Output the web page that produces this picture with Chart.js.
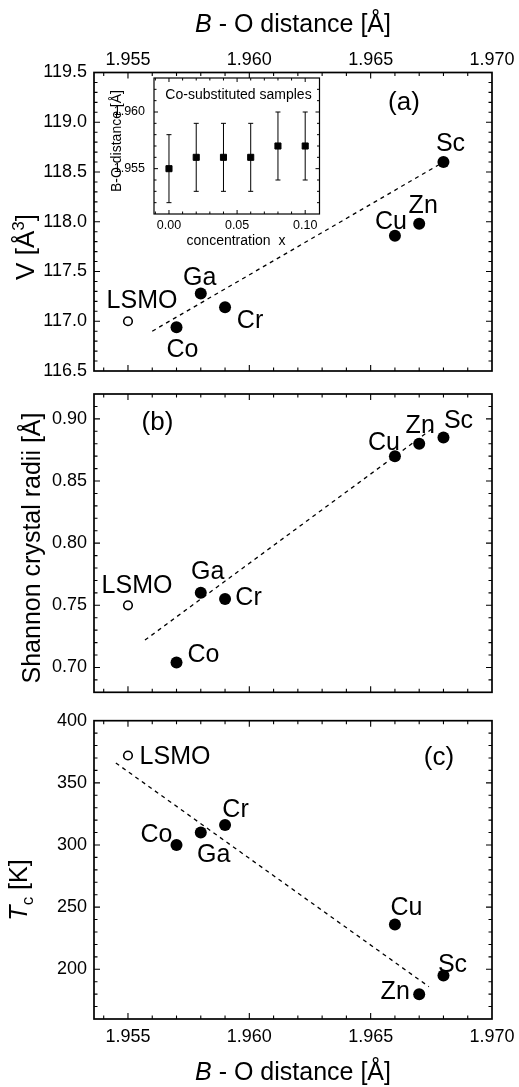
<!DOCTYPE html>
<html>
<head>
<meta charset="utf-8">
<script src="https://cdn.jsdelivr.net/npm/chart.js@4.4.1/dist/chart.umd.min.js"></script>
<style>
html,body{margin:0;padding:0;background:#fff;}
#wrap{position:relative;width:519px;height:1087px;overflow:hidden;background:#fff;}
canvas{position:absolute;left:0;top:0;}
</style>
</head>
<body>
<div id="wrap">
<canvas id="cA" width="519" height="1087"></canvas>
<canvas id="cB" width="519" height="1087"></canvas>
<canvas id="cC" width="519" height="1087"></canvas>
<canvas id="cI" width="519" height="1087"></canvas>
</div>
<script>
// ---------------- DATA ----------------
const elements      = ['LSMO', 'Co', 'Ga', 'Cr', 'Cu', 'Zn', 'Sc'];
const referenceName = 'LSMO';
const boDistance    = [1.955, 1.957, 1.958, 1.959, 1.966, 1.967, 1.968];
const cellVolume    = [117.00, 116.94, 117.28, 117.14, 117.86, 117.98, 118.60];
const shannonRadii  = [0.750, 0.704, 0.760, 0.755, 0.870, 0.880, 0.885];
const curieTemp     = [372, 300, 310, 316, 236, 180, 195];

const fitVolumeX = [1.9560, 1.9680];
const fitVolumeY = [116.90, 118.60];
const fitRadiiX  = [1.9557, 1.9676];
const fitRadiiY  = [0.722, 0.893];
const fitTcX     = [1.9545, 1.9674];
const fitTcY     = [366, 186];

const insetConcentration = [0.00, 0.02, 0.04, 0.06, 0.08, 0.10];
const insetBODistance    = [1.955, 1.956, 1.956, 1.956, 1.957, 1.957];
const insetError         = [0.003, 0.003, 0.003, 0.003, 0.003, 0.003];

const xTickLabels      = [1.955, 1.960, 1.965, 1.970];
const volTickLabels    = [116.5, 117.0, 117.5, 118.0, 118.5, 119.0, 119.5];
const radiiTickLabels  = [0.70, 0.75, 0.80, 0.85, 0.90];
const tcTickLabels     = [200, 250, 300, 350, 400];
const insetXTickLabels = [0.00, 0.05, 0.10];
const insetYTickLabels = [1.955, 1.960];

// ---------------- STYLE / HELPERS ----------------
const FONT = '"Liberation Sans", Arial, Helvetica, sans-serif';
function fnt(size, italic) { return (italic ? 'italic ' : '') + size + 'px ' + FONT; }

function rich(ctx, segs, x, y, angle, size) {
  ctx.save();
  ctx.translate(x, y);
  if (angle) ctx.rotate(angle);
  ctx.fillStyle = '#000'; ctx.textAlign = 'left'; ctx.textBaseline = 'alphabetic';
  const ws = segs.map(s => { ctx.font = fnt(s.size || size, s.italic); return ctx.measureText(s.t).width; });
  let cx = -ws.reduce((a, b) => a + b, 0) / 2;
  segs.forEach((s, i) => { ctx.font = fnt(s.size || size, s.italic); ctx.fillText(s.t, cx, s.dy || 0); cx += ws[i]; });
  ctx.restore();
}

function tickValues(min, max, step) {
  const out = [];
  for (let k = Math.ceil(min / step - 1e-6); k * step <= max + 1e-9; k++) out.push(+(k * step).toFixed(6));
  return out;
}

function framePlugin(o) {
  return {
    id: 'frame',
    afterDatasetsDraw(chart) {
      const ctx = chart.ctx, a = chart.chartArea, xs = chart.scales.x, ys = chart.scales.y;
      const isMajor = (v, majors) => majors.some(m => Math.abs(m - v) < 1e-7);
      ctx.save();
      ctx.strokeStyle = '#000'; ctx.lineWidth = o.tickWidth;
      tickValues(xs.min, xs.max, o.xMinor).forEach(v => {
        const p = xs.getPixelForValue(v);
        if (p < a.left + 1 || p > a.right - 1) return;
        const L = isMajor(v, o.xMajor) ? o.majorLen : o.minorLen;
        ctx.beginPath();
        ctx.moveTo(p, a.bottom); ctx.lineTo(p, a.bottom - L);
        ctx.moveTo(p, a.top); ctx.lineTo(p, a.top + L);
        ctx.stroke();
      });
      tickValues(ys.min, ys.max, o.yMinor).forEach(v => {
        const p = ys.getPixelForValue(v);
        if (p < a.top + 1 || p > a.bottom - 1) return;
        const L = isMajor(v, o.yMajor) ? o.majorLen : o.minorLen;
        ctx.beginPath();
        ctx.moveTo(a.left, p); ctx.lineTo(a.left + L, p);
        ctx.moveTo(a.right, p); ctx.lineTo(a.right - L, p);
        ctx.stroke();
      });
      ctx.lineWidth = o.frameWidth;
      ctx.strokeRect(a.left, a.top, a.right - a.left, a.bottom - a.top);
      ctx.fillStyle = '#000';
      ctx.font = fnt(o.tickFont);
      if (o.xLabels) {
        ctx.textAlign = 'center'; ctx.textBaseline = 'alphabetic';
        o.xMajor.forEach(v => ctx.fillText(v.toFixed(o.xDec), xs.getPixelForValue(v),
          o.xLabels === 'top' ? a.top - o.xLabelGap : a.bottom + o.xLabelGap));
      }
      ctx.textAlign = 'right'; ctx.textBaseline = 'middle';
      o.yMajor.forEach(v => ctx.fillText(v.toFixed(o.yDec), a.left - o.yLabelGap, ys.getPixelForValue(v)));
      ctx.restore();
    }
  };
}

function labelPlugin(yVals, offsets, tag, titles) {
  return {
    id: 'labels',
    afterDraw(chart) {
      const ctx = chart.ctx, xs = chart.scales.x, ys = chart.scales.y;
      ctx.save();
      ctx.fillStyle = '#000'; ctx.font = fnt(25); ctx.textAlign = 'center'; ctx.textBaseline = 'alphabetic';
      elements.forEach((e, i) => {
        const off = offsets[e];
        ctx.fillText(e, xs.getPixelForValue(boDistance[i]) + off[0], ys.getPixelForValue(yVals[i]) + off[1]);
      });
      ctx.font = fnt(26);
      ctx.fillText(tag.text, tag.x, tag.y);
      ctx.restore();
      titles.forEach(t => rich(ctx, t.segs, t.x, t.y, t.angle, t.size));
    }
  };
}

function makePanel(canvasId, yVals, fitX, fitY, yMin, yMax, area, frameOpts, offsets, tag, titles) {
  const refIdx = elements.indexOf(referenceName);
  const doped = [], ref = [];
  elements.forEach((e, i) => (i === refIdx ? ref : doped).push({ x: boDistance[i], y: yVals[i] }));
  const fit = fitX.map((x, i) => ({ x: x, y: fitY[i] }));
  return new Chart(document.getElementById(canvasId), {
    type: 'scatter',
    data: {
      datasets: [
        { data: doped, pointRadius: 6, pointBackgroundColor: '#000', pointBorderColor: '#000', pointBorderWidth: 0 },
        { data: ref, pointRadius: 4.3, pointBackgroundColor: '#fff', pointBorderColor: '#000', pointBorderWidth: 1.6 },
        { data: fit, showLine: true, pointRadius: 0, borderColor: '#000', borderWidth: 1.3, borderDash: [4, 4], fill: false }
      ]
    },
    options: {
      responsive: false, animation: false, devicePixelRatio: 1, events: [],
      layout: { autoPadding: false, padding: { left: area.l, top: area.t, right: 519 - area.r, bottom: 1087 - area.b } },
      scales: {
        x: { type: 'linear', display: false, min: 1.9536, max: 1.970 },
        y: { type: 'linear', display: false, min: yMin, max: yMax }
      },
      plugins: { legend: { display: false }, tooltip: { enabled: false } }
    },
    plugins: [framePlugin(frameOpts), labelPlugin(yVals, offsets, tag, titles)]
  });
}

const baseFrame = { xMinor: 0.001, xMajor: xTickLabels, xDec: 3, majorLen: 6, minorLen: 3.5, tickWidth: 1.1, frameWidth: 1.7, tickFont: 18, yLabelGap: 7 };
const boTitle = [{ t: 'B', italic: true }, { t: ' - O distance [Å]' }];

// Panel (a)
makePanel('cA', cellVolume, fitVolumeX, fitVolumeY, 116.5, 119.5,
  { l: 94, t: 72.5, r: 492, b: 371 },
  Object.assign({}, baseFrame, { yMinor: 0.1, yMajor: volTickLabels, yDec: 1, xLabels: 'top', xLabelGap: 7.5 }),
  { LSMO: [14, -13], Co: [6, 30], Ga: [-1, -8], Cr: [25, 21], Cu: [-4, -7], Zn: [4, -11], Sc: [7, -11] },
  { text: '(a)', x: 404, y: 109.5 },
  [
    { segs: boTitle, x: 293, y: 31.5, angle: 0, size: 25 },
    { segs: [{ t: 'V [Å' }, { t: '3', size: 17, dy: -10 }, { t: ']' }], x: 34, y: 247, angle: -Math.PI / 2, size: 26 }
  ]);

// Panel (b)
makePanel('cB', shannonRadii, fitRadiiX, fitRadiiY, 0.68, 0.92,
  { l: 94, t: 394, r: 492, b: 692.3 },
  Object.assign({}, baseFrame, { yMinor: 0.01, yMajor: radiiTickLabels, yDec: 2, xLabels: null }),
  { LSMO: [9, -12], Co: [27, 0], Ga: [7, -14], Cr: [23.5, 6], Cu: [-11, -6], Zn: [1, -11], Sc: [15, -10] },
  { text: '(b)', x: 157.5, y: 429.5 },
  [
    { segs: [{ t: 'Shannon crystal radii [Å]' }], x: 40, y: 548, angle: -Math.PI / 2, size: 25 }
  ]);

// Panel (c)
makePanel('cC', curieTemp, fitTcX, fitTcY, 160, 400,
  { l: 94, t: 720.7, r: 492, b: 1019 },
  Object.assign({}, baseFrame, { yMinor: 10, yMajor: tcTickLabels, yDec: 0, xLabels: 'bottom', xLabelGap: 23 }),
  { LSMO: [47, 8], Co: [-20, -3], Ga: [13, 29], Cr: [10.5, -8], Cu: [11.5, -10], Zn: [-24, 5], Sc: [9, -3] },
  { text: '(c)', x: 439, y: 764.5 },
  [
    { segs: boTitle, x: 293, y: 1080, angle: 0, size: 25 },
    { segs: [{ t: 'T', italic: true }, { t: 'c', size: 17, dy: 6 }, { t: ' [K]' }], x: 27, y: 890, angle: -Math.PI / 2, size: 25 }
  ]);

// Inset
(function () {
  const area = { l: 154, t: 78, r: 319.5, b: 214 };
  const pts = insetConcentration.map((x, i) => ({ x: x, y: insetBODistance[i] }));
  const errPlugin = {
    id: 'err',
    beforeDraw(chart) {
      const a = chart.chartArea, ctx = chart.ctx;
      ctx.save(); ctx.fillStyle = '#fff'; ctx.fillRect(a.left, a.top, a.right - a.left, a.bottom - a.top); ctx.restore();
    },
    beforeDatasetsDraw(chart) {
      const ctx = chart.ctx, xs = chart.scales.x, ys = chart.scales.y;
      ctx.save(); ctx.strokeStyle = '#000'; ctx.lineWidth = 1;
      insetConcentration.forEach((x, i) => {
        const px = xs.getPixelForValue(x);
        const y1 = ys.getPixelForValue(insetBODistance[i] - insetError[i]);
        const y2 = ys.getPixelForValue(insetBODistance[i] + insetError[i]);
        ctx.beginPath();
        ctx.moveTo(px, y1); ctx.lineTo(px, y2);
        ctx.moveTo(px - 2.5, y1); ctx.lineTo(px + 2.5, y1);
        ctx.moveTo(px - 2.5, y2); ctx.lineTo(px + 2.5, y2);
        ctx.stroke();
      });
      ctx.restore();
    },
    afterDraw(chart) {
      const ctx = chart.ctx;
      ctx.save();
      ctx.fillStyle = '#000'; ctx.textAlign = 'center'; ctx.textBaseline = 'alphabetic';
      ctx.font = fnt(14);
      ctx.fillText('Co-substituted samples', 238.5, 99);
      ctx.restore();
      rich(ctx, [{ t: 'concentration  x' }], 236, 245, 0, 14);
      rich(ctx, [{ t: 'B-O distance [Å]' }], 121, 141, -Math.PI / 2, 14);
    }
  };
  new Chart(document.getElementById('cI'), {
    type: 'scatter',
    data: { datasets: [{ data: pts, pointStyle: 'rect', pointRadius: 4.3, pointBackgroundColor: '#000', pointBorderColor: '#000', pointBorderWidth: 1 }] },
    options: {
      responsive: false, animation: false, devicePixelRatio: 1, events: [],
      layout: { autoPadding: false, padding: { left: area.l, top: area.t, right: 519 - area.r, bottom: 1087 - area.b } },
      scales: {
        x: { type: 'linear', display: false, min: -0.011, max: 0.1105 },
        y: { type: 'linear', display: false, min: 1.951, max: 1.963 }
      },
      plugins: { legend: { display: false }, tooltip: { enabled: false } }
    },
    plugins: [errPlugin, framePlugin({
      xMinor: 0.01, xMajor: insetXTickLabels, xDec: 2, yMinor: 0.001, yMajor: insetYTickLabels, yDec: 3,
      majorLen: 4, minorLen: 2.5, tickWidth: 1, frameWidth: 1.2, tickFont: 12.5,
      xLabels: 'bottom', xLabelGap: 14.5, yLabelGap: 9
    })]
  });
})();
</script>
</body>
</html>
